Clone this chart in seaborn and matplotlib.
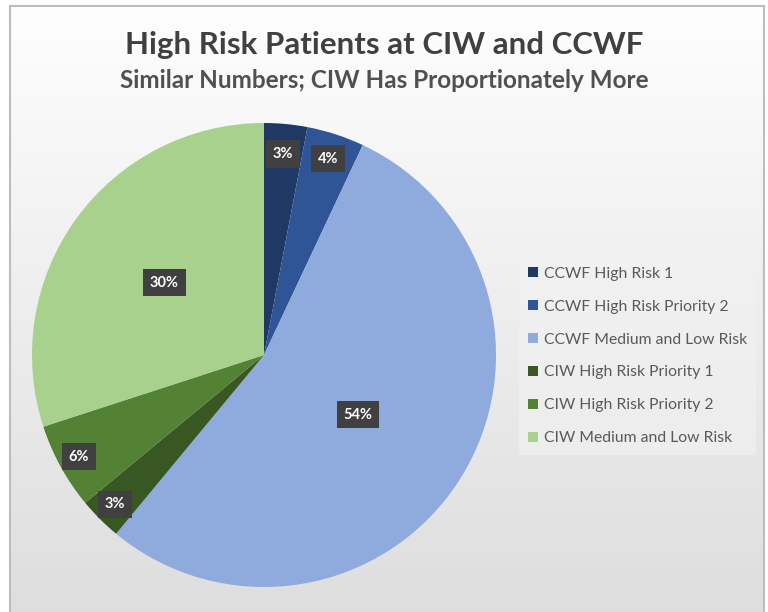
import numpy as np
import matplotlib
matplotlib.use("Agg")
import matplotlib.pyplot as plt
import seaborn as sns

# Data
categories = ["CCWF High Risk 1", "CCWF High Risk Priority 2", "CCWF Medium and Low Risk",
              "CIW High Risk Priority 1", "CIW High Risk Priority 2", "CIW Medium and Low Risk"]
shares = [3, 4, 54, 3, 6, 30]
labels = ["3%", "4%", "54%", "3%", "6%", "30%"]
colors = ["#203864", "#2f5597", "#8faadc", "#385723", "#548235", "#a9d18e"]
label_radius = [0.87, 0.89, 0.48, 0.91, 0.91, 0.53]

sns.set_theme(style="white")
plt.rcParams['font.family'] = ['Lato', 'DejaVu Sans']

fig = plt.figure(figsize=(7.68, 6.12), dpi=100)
fig.patch.set_facecolor("white")

# chart area background with soft gradient and a thin frame
bg = fig.add_axes([10 / 768, 0, 754 / 768, 606 / 612])
grad = np.linspace(0.995, 0.87, 256).reshape(-1, 1)
bg.imshow(np.dstack([grad, grad, grad]), aspect="auto", extent=[0, 1, 0, 1], origin="upper")
bg.set_xlim(0, 1)
bg.set_ylim(0, 1)
bg.set_xticks([])
bg.set_yticks([])
for s in bg.spines.values():
    s.set_color("#bdbdbd")
    s.set_linewidth(1.5)
bg.spines["bottom"].set_visible(False)

# pie
ax = fig.add_axes([32 / 768, 25 / 612, 464 / 768, 464 / 612])
wedges, _ = ax.pie(shares, colors=colors, startangle=90, counterclock=False,
                   wedgeprops=dict(edgecolor="none"))
ax.set_aspect("equal")
ax.set_xlim(-1, 1)
ax.set_ylim(-1, 1)
ax.axis("off")

total = sum(shares)
cum = 0
for w, lab, r in zip(shares, labels, label_radius):
    mid = (cum + w / 2) / total * 2 * np.pi
    cum += w
    x, y = r * np.sin(mid), r * np.cos(mid)
    ax.text(x, y, lab, ha="center", va="center", color="white", fontsize=10.5,
            fontweight="bold",
            bbox=dict(boxstyle="square,pad=0.45", facecolor="#404040", edgecolor="none"))

# titles
fig.text(0.5, 1 - 45 / 612, "High Risk Patients at CIW and CCWF", ha="center", va="center",
         fontsize=22.5, fontweight="bold", color="#404040")
fig.text(0.5, 1 - 80 / 612, "Similar Numbers; CIW Has Proportionately More", ha="center",
         va="center", fontsize=17.5, fontweight="bold", color="#505050")

# legend
leg = fig.legend(wedges, categories, loc="center left", bbox_to_anchor=(511 / 768, 1 - 356 / 612),
                 frameon=True, fontsize=11.3, handlelength=0.6, handleheight=0.6,
                 handletextpad=0.4, labelspacing=1.2, borderpad=0.6)
leg.get_frame().set_facecolor("#f2f2f2")
leg.get_frame().set_edgecolor("none")
leg.get_frame().set_alpha(0.6)
for t in leg.get_texts():
    t.set_color("#595959")

fig.savefig("out.png", dpi=100)
